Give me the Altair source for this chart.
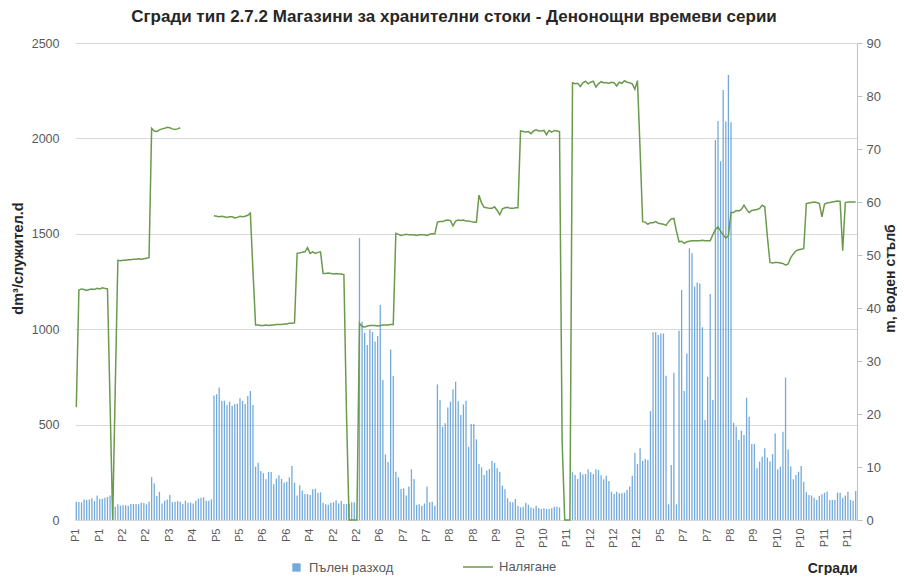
import altair as alt
import pandas as pd

# buildings in the order they appear and the number of daily rows of each
buildings = ["P1", "P2", "P3", "P4", "P5", "P6", "P4", "P2", "P6", "P7", "P8",
             "P9", "P10", "P11", "P12", "P5", "P7", "P8", "P9", "P10", "P11"]
days_per_building = [15, 14, 12, 12, 16, 16, 10, 14, 14, 16, 16,
                     16, 16, 4, 26, 15, 20, 7, 7, 15, 20]

# Пълен разход, dm3/служител.d (one value per day)
usage = [
    96, 94, 93, 107, 105, 108, 114, 100, 129, 110, 112, 117, 121, 128, 80,
    70, 82, 75, 77, 77, 75, 84, 84, 84, 82, 91, 89, 82, 96,
    225, 192, 126, 148, 87, 101, 108, 131, 93, 96, 100, 96,
    84, 101, 91, 91, 87, 101, 112, 117, 119, 101, 101, 108,
    652, 659, 694, 624, 625, 603, 620, 599, 608, 610, 638, 624, 608, 650, 676, 603,
    280, 300, 257, 245, 213, 252, 252, 187, 218, 234, 215, 196, 201, 224, 283, 196,
    129, 182, 154, 136, 136, 131, 161, 164, 143, 145,
    91, 82, 80, 91, 93, 103, 87, 100, 84, 84, 84, 93, 93, 0,
    1478, 1039, 982, 917, 999, 985, 936, 964, 1127, 734, 344, 304, 894, 755,
    253, 224, 162, 166, 128, 175, 266, 215, 79, 82, 75, 87, 175, 93, 96, 75,
    711, 629, 489, 507, 590, 620, 685, 725, 622, 550, 606, 625, 384, 503, 503, 423,
    293, 276, 236, 259, 267, 309, 300, 271, 253, 180, 161, 114, 96, 93, 110, 73,
    66, 70, 91, 80, 66, 61, 75, 61, 58, 61, 58, 58, 61, 70, 70, 66,
    0, 0, 0, 0,
    250, 236, 215, 250, 239, 241, 266, 250, 241, 266, 262, 234, 213,
    232, 204, 148, 136, 148, 140, 140, 143, 157, 175, 232, 353, 293,
    376, 311, 320, 314, 571, 984, 984, 970, 978, 978, 756, 82, 288, 772, 82,
    992, 1205, 676, 873, 1424, 1398, 1223, 1245, 1240, 1010, 524, 751, 1184, 629,
    1992, 2091, 1880, 2254, 2088, 2332, 2084,
    510, 489, 419, 468, 445, 641, 541,
    398, 398, 271, 306, 332, 376, 327,
    306, 346, 454, 266, 280, 463, 746, 370, 280, 213, 236, 253, 283, 201, 145,
    131, 128, 117, 105, 126, 135, 143, 148, 105, 105, 105, 143, 143, 117, 128,
    148, 105, 101, 152, 140,
]

# Налягане, m воден стълб (None = no reading)
pressure = [
    21.3, 43.4, 43.6, 43.5, 43.3, 43.5, 43.6, 43.5, 43.7, 43.6, 43.8, 43.7, 43.6, 22.0, 0.0,
    25.0, 49.0, 48.9, 49.0, 49.0, 49.1, 49.1, 49.2, 49.2, 49.3, 49.2, 49.3, 49.4, 49.5,
    73.9, 73.4, 73.3, 73.6, 73.8, 73.9, 74.1, 74.0, 73.8, 73.7, 73.8, 74.0,
    None, None, None, None, None, None, None, None, None, None, None, None,
    57.4, 57.3, 57.2, 57.3, 57.2, 57.1, 57.2, 57.2, 57.0, 57.1, 57.3, 57.2, 57.3, 57.5, 57.9, 47.0,
    36.8, 36.8, 36.7, 36.7, 36.8, 36.7, 36.8, 36.8, 36.9, 36.9, 36.9, 37.0, 37.0, 37.1, 37.1, 37.2,
    50.3, 50.4, 50.5, 50.6, 51.4, 50.3, 50.6, 50.3, 50.5, 50.6,
    46.5, 46.5, 46.6, 46.5, 46.4, 46.5, 46.4, 46.4, 46.3, 20.0, 0.0, 0.0, 0.0, 0.0,
    37.1, 36.5, 36.4, 36.6, 36.7, 36.7, 36.7, 36.6, 36.7, 36.8, 36.8, 36.8, 36.9, 36.9,
    54.1, 53.9, 53.7, 53.8, 53.9, 53.8, 53.8, 53.8, 53.7, 53.8, 53.8, 53.8, 53.7, 53.9, 54.0, 54.0,
    56.2, 56.3, 56.3, 56.5, 56.6, 56.5, 55.5, 56.4, 56.6, 56.5, 56.6, 56.4, 56.4, 56.3, 56.2, 56.2,
    61.3, 59.8, 59.0, 58.9, 58.8, 58.8, 59.1, 58.4, 57.6, 58.7, 58.9, 59.0, 58.8, 58.8, 58.9, 58.9,
    73.4, 73.3, 73.2, 73.3, 72.9, 73.4, 73.6, 73.4, 73.4, 73.5, 72.7, 73.5, 73.2, 73.5, 73.4, 73.3,
    15.0, 0.0, 0.0, 0.0,
    82.5, 82.3, 82.4, 81.8, 82.5, 82.8, 82.3, 82.6, 82.8, 81.7, 82.3, 82.7, 82.5,
    82.5, 82.4, 82.6, 82.5, 81.9, 82.6, 82.4, 82.9, 82.6, 82.5, 82.3, 81.3, 82.9,
    70.0, 56.3, 56.2, 55.8, 56.1, 56.1, 56.3, 56.0, 55.9, 55.8, 55.6, 56.3, 56.8, 56.9, 54.5,
    52.5, 52.6, 52.2, 52.5, 52.6, 52.7, 52.7, 52.7, 52.7, 52.8, 52.7, 52.7, 52.7,
    53.8, 54.8, 55.3, 54.5, 53.8, 53.2, 53.6,
    58.0, 58.0, 58.4, 58.3, 58.6, 59.4, 58.6,
    58.0, 58.4, 58.5, 58.6, 58.8, 59.4, 59.1,
    53.5, 48.6, 48.5, 48.6, 48.6, 48.5, 48.4, 48.1, 48.3, 49.5, 50.2, 50.8, 51.0, 51.1, 51.2,
    59.7, 59.8, 59.9, 60.0, 59.9, 59.7, 57.2, 59.6, 59.8, 59.9, 60.0, 60.1, 60.2, 60.1,
    50.8, 59.9, 60.0, 60.0, 60.0, 60.0,
]

left_ticks = [0, 500, 1000, 1500, 2000, 2500]
right_ticks = [0, 10, 20, 30, 40, 50, 60, 70, 80, 90]

day_building = [b for b, n in zip(buildings, days_per_building) for _ in range(n)]
n = min(len(day_building), len(usage), len(pressure))
keys = [f"{i:03d}|{day_building[i]}" for i in range(n)]
df = pd.DataFrame({"key": keys, "usage": usage[:n], "pressure": pressure[:n]})
label_keys = keys[::9]

FONT = "Liberation Sans"
GRAY = "#595959"
DARK = "#262626"

x_enc = alt.X(
    "key:O",
    sort=None,
    scale=alt.Scale(paddingInner=0.5, paddingOuter=0.25),
    axis=alt.Axis(
        values=label_keys,
        labelExpr="split(datum.value, '|')[1]",
        labelAngle=270,
        labelFontSize=11,
        labelColor=GRAY,
        labelPadding=8,
        ticks=False,
        domainColor="#d9d9d9",
        title="Сгради",
        titleFontWeight="bold",
        titleFontSize=14,
        titleColor=DARK,
        titleX=782,
        titleY=52,
        titleAlign="right",
        titleBaseline="alphabetic",
    ),
)

bars = alt.Chart(df).mark_bar(opacity=0.85).encode(
    x=x_enc,
    y=alt.Y(
        "usage:Q",
        scale=alt.Scale(domain=[0, 2500]),
        axis=alt.Axis(
            values=left_ticks,
            format="d",
            grid=True,
            gridColor="#d9d9d9",
            domain=False,
            ticks=False,
            labelColor=GRAY,
            labelFontSize=12.5,
            labelPadding=16,
            title="dm³/служител.d",
            titleFontWeight="bold",
            titleFontSize=14.5,
            titleColor=DARK,
            titleAngle=270,
            titleX=-57,
            titleY=215,
            titleAlign="center",
            titleBaseline="middle",
        ),
    ),
    color=alt.Color(
        "s:N",
        scale=alt.Scale(domain=["Пълен разход"], range=["#5B9BD5"]),
        legend=alt.Legend(
            title=None, orient="none", legendX=215, legendY=518,
            symbolType="square", symbolSize=70, labelFontSize=13,
            labelOffset=6, labelColor=GRAY, symbolStrokeWidth=0,
        ),
    ),
).transform_calculate(s="'Пълен разход'")

line = alt.Chart(df).mark_line(strokeWidth=1.5).encode(
    x=x_enc,
    y=alt.Y(
        "pressure:Q",
        scale=alt.Scale(domain=[0, 90]),
        axis=alt.Axis(
            orient="right",
            values=right_ticks,
            grid=False,
            domain=True,
            domainColor="#bfbfbf",
            ticks=True,
            tickColor="#bfbfbf",
            tickSize=5,
            labelColor=GRAY,
            labelFontSize=13,
            labelPadding=4,
            title="m, воден стълб",
            titleFontWeight="bold",
            titleFontSize=14,
            titleColor=DARK,
            titleAngle=270,
            titleX=33,
            titleY=235,
            titleAlign="center",
            titleBaseline="middle",
        ),
    ),
    stroke=alt.Stroke(
        "s:N",
        scale=alt.Scale(domain=["Налягане"], range=["#6A9A4C"]),
        legend=alt.Legend(
            title=None, orient="none", legendX=387, legendY=508,
            symbolType="stroke", symbolSize=900, symbolStrokeWidth=1.5,
            labelFontSize=13, labelOffset=5, labelColor=GRAY,
        ),
    ),
).transform_calculate(s="'Налягане'")

chart = (
    alt.layer(bars, line)
    .resolve_scale(y="independent", color="independent", stroke="independent")
    .properties(
        width=782,
        height=477,
        autosize=alt.AutoSizeParams(type="none"),
        padding={"left": 67, "top": 35, "right": 40, "bottom": 55},
        title=alt.TitleParams(
            text="Сгради тип 2.7.2 Магазини за хранителни стоки - Денонощни времеви серии",
            anchor="middle",
            frame="group",
            dx=-12,
            offset=11,
            fontSize=17,
            fontWeight="bold",
            color=DARK,
            font=FONT,
        ),
        background="white",
    )
    .configure_view(stroke=None)
    .configure_axis(labelFont=FONT, titleFont=FONT)
    .configure_legend(labelFont=FONT)
)

chart.save("out.html", embed_options={"renderer": "svg", "actions": False})
